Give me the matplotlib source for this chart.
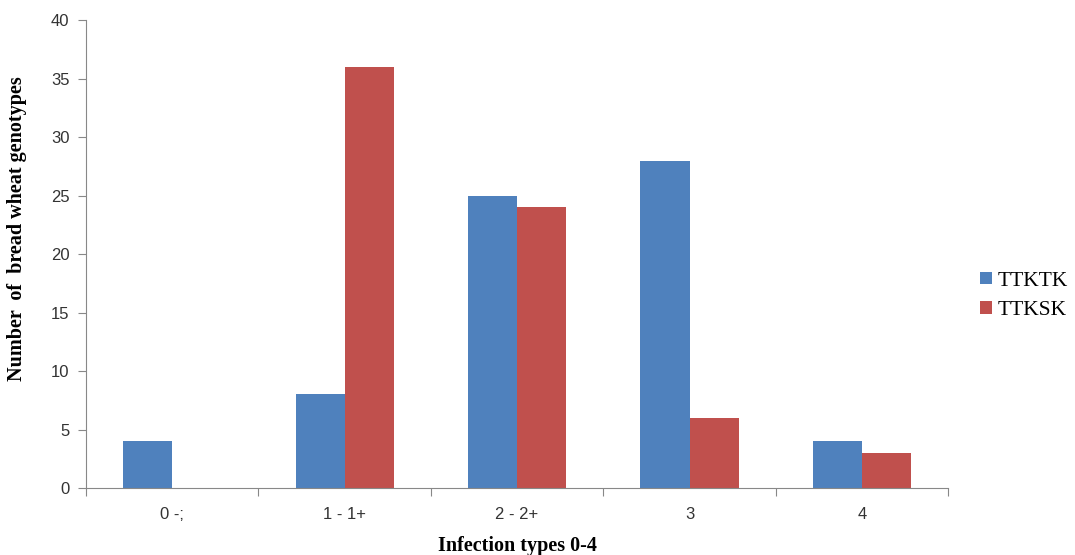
import numpy as np
import matplotlib.pyplot as plt

categories = ['0 -;', '1 - 1+', '2 - 2+', '3', '4']
ttktk = [4, 8, 25, 28, 4]
ttksk = [0, 36, 24, 6, 3]

fig = plt.figure(figsize=(10.75, 5.55), dpi=100)
ax = fig.add_axes([0.080, 0.1207, 0.802, 0.843])

x = np.arange(len(categories))
w = 0.285
ax.bar(x - w / 2, ttktk, w, color='#4F81BD', label='TTKTK')
ax.bar(x + w / 2, ttksk, w, color='#C0504D', label='TTKSK')

ax.set_xlim(-0.5, len(categories) - 0.5)
ax.set_ylim(0, 40)
ax.set_yticks(range(0, 41, 5))
# boundary ticks between groups, labels centred on the groups
ax.set_xticks(np.arange(-0.5, len(categories), 1.0))
ax.set_xticklabels([])
ax.set_xticks(x, minor=True)
ax.set_xticklabels(categories, minor=True, family='Liberation Sans', fontsize=12,
                   color='#333333')
ax.tick_params(axis='x', which='minor', length=0, pad=14)
ax.tick_params(axis='x', which='major', length=6, color='#888888', direction='out')
ax.tick_params(axis='y', length=6, color='#888888', pad=6, labelcolor='#333333')
for lbl in ax.get_yticklabels():
    lbl.set_family('Liberation Sans')
    lbl.set_fontsize(12)

for side in ['top', 'right']:
    ax.spines[side].set_visible(False)
for side in ['left', 'bottom']:
    ax.spines[side].set_color('#888888')

ax.set_ylabel('Number  of  bread wheat genotypes', family='Liberation Serif',
              fontweight='bold', fontsize=14.5)
ax.yaxis.set_label_coords(-0.068, 0.555)
ax.set_xlabel('Infection types 0-4', family='Liberation Serif',
              fontweight='bold', fontsize=14.5)
ax.xaxis.set_label_coords(0.5, -0.103)

fig.legend(loc='center left', bbox_to_anchor=(980 / 1075, 1 - 296 / 555),
           frameon=False, borderpad=0, borderaxespad=0,
           prop={'family': 'Liberation Serif', 'size': 15.5},
           handlelength=0.55, handleheight=0.55, handletextpad=0.25,
           labelspacing=0.5)

plt.savefig('out.png', dpi=100)
